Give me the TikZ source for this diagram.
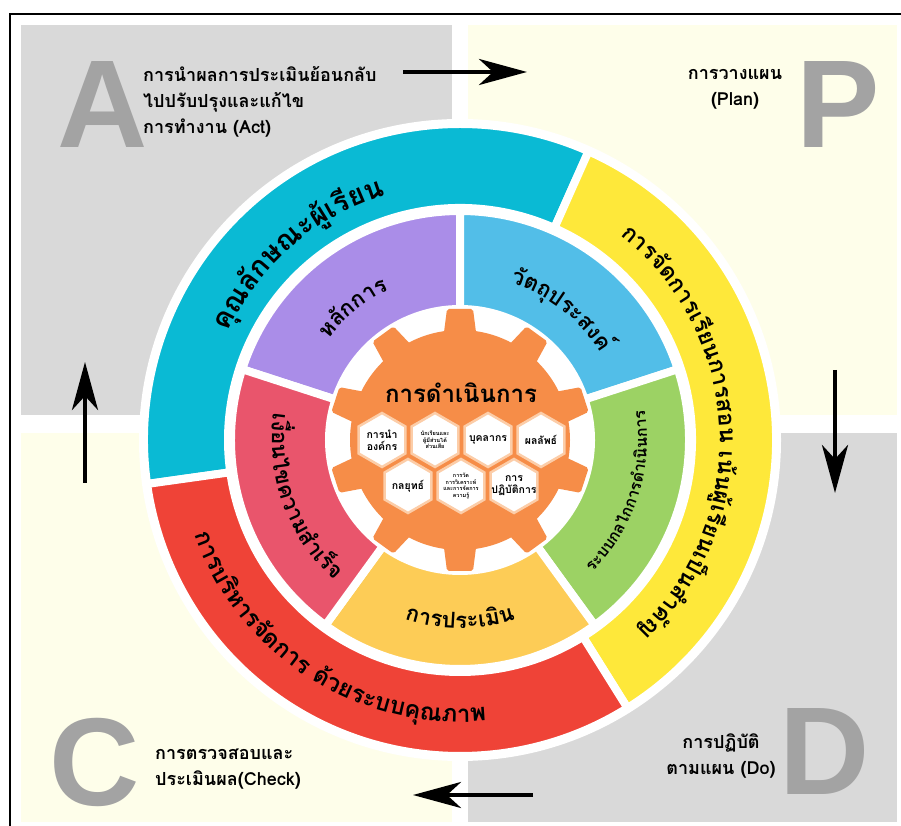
\documentclass[tikz,border=0pt]{standalone}
\usepackage{fontspec}
\setmainfont{Liberation Sans}
\newfontfamily\thaifont[Script=Thai]{Loma}
\usetikzlibrary{arrows.meta,shapes.geometric,decorations.text}

\definecolor{bggray}{RGB}{217,217,217}
\definecolor{bgcream}{RGB}{254,254,234}
\definecolor{lettergray}{RGB}{163,163,163}
\definecolor{ringcyan}{RGB}{10,186,212}
\definecolor{ringyellow}{RGB}{254,232,58}
\definecolor{ringred}{RGB}{239,67,55}
\definecolor{segpurple}{RGB}{170,141,232}
\definecolor{segblue}{RGB}{82,190,232}
\definecolor{seggreen}{RGB}{156,210,100}
\definecolor{segorange}{RGB}{253,204,86}
\definecolor{segpink}{RGB}{233,85,108}
\definecolor{gearorange}{RGB}{246,141,72}
\definecolor{hexedge}{RGB}{252,205,168}

\newcommand\cornerfont{\thaifont\bfseries\fontsize{18}{26}\selectfont}
\newcommand\cyanfont{\thaifont\bfseries\fontsize{28}{28}\selectfont}
\newcommand\yellowfont{\thaifont\bfseries\fontsize{23}{23}\selectfont}
\newcommand\redfont{\thaifont\bfseries\fontsize{24}{24}\selectfont}
\newcommand\innerfont{\thaifont\bfseries\fontsize{22}{22}\selectfont}
\newcommand\greenfont{\thaifont\bfseries\fontsize{16}{16}\selectfont}
\newcommand\titlefont{\thaifont\bfseries\fontsize{24}{24}\selectfont}
\newcommand\hexfont{\thaifont\bfseries\fontsize{10.5}{12}\selectfont}
\newcommand\hextiny{\thaifont\bfseries\fontsize{5.5}{6.5}\selectfont}

\begin{document}
\begin{tikzpicture}[x=1pt, y=1pt,
    pdca/.style={text=lettergray, font=\bfseries\fontsize{125}{125}\selectfont, inner sep=0pt},
    cornertext/.style={font=\cornerfont, inner sep=0pt},
    flow/.style={line width=4.5pt, -{Stealth[length=48pt, width=26pt, inset=14pt]}},
    seg/.style={draw=white, line width=8pt},
    hexcell/.style={regular polygon, regular polygon sides=6, regular polygon rotate=30,
      minimum size=54pt, inner sep=0pt, fill=white, draw=hexedge, line width=2.5pt},
    hexlabel/.style={align=center, inner sep=0pt}]

    \useasboundingbox (0,0) rectangle (901,826);

    % cadre
    \draw[line width=2pt] (10,-10) |- (910,812);

    % quadrants PDCA
    \fill[bggray] (21,411) rectangle (452,801);
    \fill[bgcream] (468,411) rectangle (897,801);
    \fill[bgcream] (21,4) rectangle (452,393);
    \fill[bggray] (468,4) rectangle (897,393);

    % lettres
    \node[pdca] (bigA) at (103,721) {A};
    \node[pdca] (bigP) at (838,721) {P};
    \node[pdca] (bigC) at (95,64) {C};
    \node[pdca] (bigD) at (825,74) {D};

    % textes des coins
    \node[cornertext, align=left, anchor=north west] (act) at (143,760)
        {การนำผลการประเมินย้อนกลับ\\ไปปรับปรุงและแก้ไข\\การทำงาน (Act)};
    \node[cornertext, align=center, anchor=north] (plan) at (735,757) {การวางแผน\\(Plan)};
    \node[cornertext, align=left, anchor=north west] (check) at (155,77)
        {การตรวจสอบและ\\ประเมินผล(Check)};
    \node[cornertext, align=center, anchor=north] (do) at (721,92) {การปฏิบัติ\\ตามแผน (Do)};

    % fleches du cycle
    \coordinate (actout) at (403,754);
    \coordinate (planin) at (527,754);
    \coordinate (planout) at (835,456);
    \coordinate (doin) at (835,333);
    \coordinate (doout) at (533,31);
    \coordinate (checkin) at (413,31);
    \coordinate (checkout) at (85,343);
    \coordinate (actin) at (85,464);
    \draw[flow] (actout) -- (planin);
    \draw[flow] (planout) -- (doin);
    \draw[flow] (doout) -- (checkin);
    \draw[flow] (checkout) -- (actin);

    % disque blanc
    \fill[white] (460,386) circle (321);

    \begin{scope}[shift={(460,386)}]
    % anneau exterieur
    \foreach \s/\e/\c in {66/188/ringcyan, -58/66/ringyellow, 188/302/ringred}
        \filldraw[seg, fill=\c] (\s:232) arc[start angle=\s, end angle=\e, radius=232]
            -- (\e:316) arc[start angle=\e, end angle=\s, radius=316] -- cycle;

    % anneau interieur
    \foreach \s/\e/\c in {90/162/segpurple, 18/90/segblue, -54/18/seggreen,
                          234/306/segorange, 162/234/segpink}
        \filldraw[seg, fill=\c] (\s:131) arc[start angle=\s, end angle=\e, radius=131]
            -- (\e:229) arc[start angle=\e, end angle=\s, radius=229] -- cycle;

    % engrenage
    \fill[gearorange] (0,0) circle (110);
    \foreach \a in {90,126,...,414}
        \fill[gearorange, rounded corners=2pt, rotate=\a] (100,-17) -- (131,-13) -- (131,13) -- (100,17) -- cycle;

    \node[font=\titlefont, inner sep=0pt] (work) at (1,47) {การดำเนินการ};

    % hexagones
    \node[hexcell] (lead) at (-78,0) {};
    \node[hexcell] (stake) at (-25,0) {};
    \node[hexcell] (staff) at (28,0) {};
    \node[hexcell] (result) at (81,0) {};
    \node[hexcell] (strat) at (-52,-46) {};
    \node[hexcell] (know) at (1,-46) {};
    \node[hexcell] (oper) at (54,-46) {};

    \node[hexlabel, font=\hexfont] (leadtxt) at (lead) {การนำ\\องค์กร};
    \node[hexlabel, font=\hextiny] (staketxt) at (stake) {นักเรียนและ\\ผู้มีส่วนได้\\ส่วนเสีย};
    \node[hexlabel, font=\hexfont] (stafftxt) at (staff) {บุคลากร};
    \node[hexlabel, font=\hexfont] (resulttxt) at (result) {ผลลัพธ์};
    \node[hexlabel, font=\hexfont] (strattxt) at (strat) {กลยุทธ์};
    \node[hexlabel, font=\hextiny] (knowtxt) at (know) {การวัด\\การวิเคราะห์\\และการจัดการ\\ความรู้};
    \node[hexlabel, font=\hexfont] (opertxt) at (oper) {การ\\ปฏิบัติการ};

    % textes courbes, anneau exterieur
    \path[decorate, decoration={text along path, text align=center,
        text={|\cyanfont|{คุ}{ณ}{ลั}{ก}{ษ}{ณ}{ะ}{ผู้}{เ}{รี}{ย}{น}}}]
        (196:256) arc[start angle=196, end angle=66, radius=256];
    \path[decorate, decoration={text along path, text align=center,
        text={|\yellowfont|{ก}{า}{ร}{จั}{ด}{ก}{า}{ร}{เ}{รี}{ย}{น}{ก}{า}{ร}{ส}{อ}{น }{เ}{น้}{น}{ผู้}{เ}{รี}{ย}{น}{เ}{ป็}{น}{สำ}{คั}{ญ}}}]
        (60:260) arc[start angle=60, end angle=-55, radius=260];
    \path[decorate, decoration={text along path, text align=center,
        text={|\redfont|{ก}{า}{ร}{บ}{ริ}{ห}{า}{ร}{จั}{ด}{ก}{า}{ร }{ด้}{ว}{ย}{ร}{ะ}{บ}{บ}{คุ}{ณ}{ภ}{า}{พ}}}]
        (185:282) arc[start angle=185, end angle=290, radius=282];

    % textes courbes, anneau interieur
    \path[decorate, decoration={text along path, text align=center,
        text={|\innerfont|{ห}{ลั}{ก}{ก}{า}{ร}}}]
        (165:166) arc[start angle=165, end angle=93, radius=166];
    \path[decorate, decoration={text along path, text align=center,
        text={|\innerfont|{วั}{ต}{ถุ}{ป}{ร}{ะ}{ส}{ง}{ค์}}}]
        (88:165) arc[start angle=88, end angle=16, radius=165];
    \path[decorate, decoration={text along path, text align=center,
        text={|\greenfont|{ร}{ะ}{บ}{บ}{ก}{ล}{ไ}{ก}{ก}{า}{ร}{ดำ}{เ}{นิ}{น}{ก}{า}{ร}}}]
        (-54:187) arc[start angle=-54, end angle=18, radius=187];
    \path[decorate, decoration={text along path, text align=center,
        text={|\innerfont|{ก}{า}{ร}{ป}{ร}{ะ}{เ}{มิ}{น}}}]
        (234:188) arc[start angle=234, end angle=306, radius=188];
    \path[decorate, decoration={text along path, text align=center,
        text={|\innerfont|{เ}{งื่}{อ}{น}{ไ}{ข}{ค}{ว}{า}{ม}{สำ}{เ}{ร็}{จ}}}]
        (164:188) arc[start angle=164, end angle=236, radius=188];
    \end{scope}

\end{tikzpicture}
\end{document}
